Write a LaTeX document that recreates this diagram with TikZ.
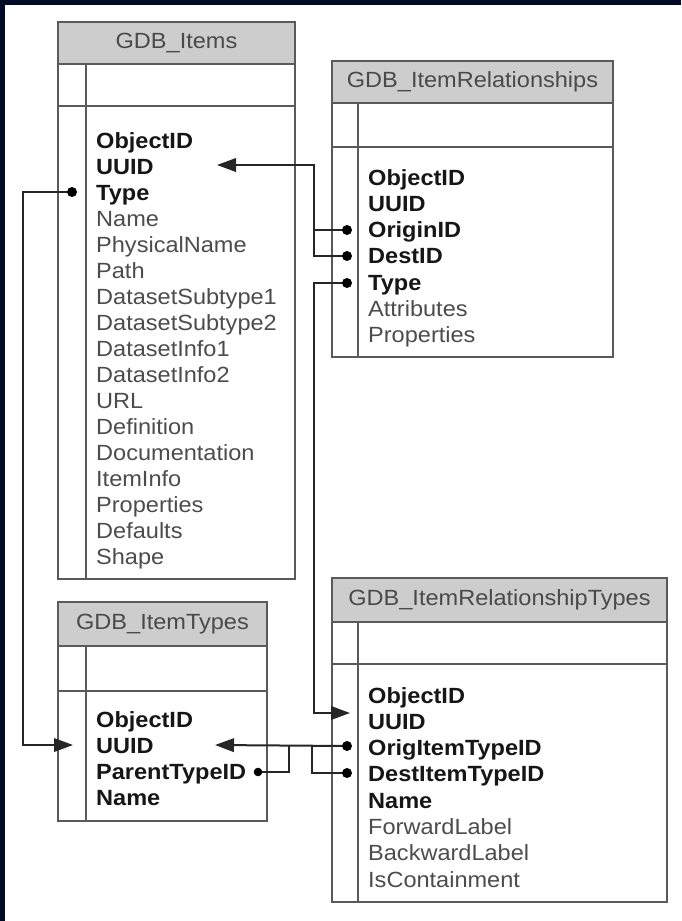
\documentclass[tikz,border=0pt]{standalone}
\usepackage{fontspec}
\setmainfont{Liberation Sans}[FakeStretch=1.07]
\usetikzlibrary{arrows.meta}
\definecolor{navy}{HTML}{020B26}
\definecolor{hdrfill}{HTML}{CDCDCD}
\definecolor{bordc}{HTML}{5A5A5A}
\definecolor{boldc}{HTML}{161616}
\definecolor{regc}{HTML}{4C4C4C}
\definecolor{hdrc}{HTML}{4A4A4A}
\tikzset{
  tbl/.style={draw=bordc, line width=2.4pt},
  hdr/.style={fill=hdrfill, draw=bordc, line width=2.4pt},
  hdrtext/.style={font=\fontsize{22}{26}\selectfont, text=hdrc, inner sep=0pt},
  fieldb/.style={font=\fontsize{22}{26}\selectfont\bfseries, text=boldc, anchor=base west, inner sep=0pt},
  fieldr/.style={font=\fontsize{22}{26}\selectfont, text=regc, anchor=base west, inner sep=0pt},
  conn/.style={draw=black!85, line width=2pt},
  tip/.style={-{Triangle[length=19pt,width=13.5pt]}},
  dot/.style={fill=black},
}
% #1 left, #2 top, #3 right, #4 header bottom, #5 divider, #6 bottom, #7 inner x, #8 title, #9 name
\newcommand{\dbtable}[9]{%
  \fill[white] (#1,#2) rectangle (#3,#6);
  \draw[hdr] (#1,#2) rectangle (#3,#4);
  \node[hdrtext] (#9) at ({(#1+#3)/2},{(#2+#4)/2}) {#8};
  \draw[tbl] (#1,#4) rectangle (#3,#6);
  \draw[tbl] (#1,#5) -- (#3,#5);
  \draw[tbl] (#7,#4) -- (#7,#6);
}
\begin{document}
\begin{tikzpicture}[x=1pt,y=-1pt]
\useasboundingbox (0,0) rectangle (681,921);
\fill[white] (0,0) rectangle (681,921);
\fill[navy] (0,0) rectangle (681,5);
\fill[navy] (0,0) rectangle (5,921);

% tables
\dbtable{58}{22}{295}{64}{106}{579}{86}{GDB\_Items}{items}
\dbtable{332}{61}{613}{103}{147}{357}{358}{GDB\_ItemRelationships}{rel}
\dbtable{58}{602}{267}{646}{691}{821}{86}{GDB\_ItemTypes}{types}
\dbtable{332}{578}{667}{622}{664}{902}{358}{GDB\_ItemRelationshipTypes}{reltypes}

% GDB_Items fields
\foreach \t [count=\i] in {ObjectID,UUID,Type}
  \node[fieldb] (it\i) at (96,{140+(\i-1)*26.06+8}) {\t};
\foreach \t [count=\i from 4] in {Name,PhysicalName,Path,DatasetSubtype1,DatasetSubtype2,DatasetInfo1,DatasetInfo2,URL,Definition,Documentation,ItemInfo,Properties,Defaults,Shape}
  \node[fieldr] (it\i) at (96,{140+(\i-1)*26.06+8}) {\t};

% GDB_ItemRelationships fields
\foreach \t [count=\i] in {ObjectID,UUID,OriginID,DestID,Type}
  \node[fieldb] (ir\i) at (368,{177+(\i-1)*26.3+8}) {\t};
\foreach \t [count=\i from 6] in {Attributes,Properties}
  \node[fieldr] (ir\i) at (368,{177+(\i-1)*26.3+8}) {\t};

% GDB_ItemTypes fields
\foreach \t [count=\i] in {ObjectID,UUID,ParentTypeID,Name}
  \node[fieldb] (ty\i) at (96,{719+(\i-1)*26.3+8}) {\t};

% GDB_ItemRelationshipTypes fields
\foreach \t [count=\i] in {ObjectID,UUID,OrigItemTypeID,DestItemTypeID,Name}
  \node[fieldb] (rt\i) at (368,{695+(\i-1)*26.3+8}) {\t};
\foreach \t [count=\i from 6] in {ForwardLabel,BackwardLabel,IsContainment}
  \node[fieldr] (rt\i) at (368,{695+(\i-1)*26.3+8}) {\t};

% connector end points
\coordinate (dItType) at (72,192);
\coordinate (aTyUUID) at (73,745);
\coordinate (aItUUID) at (217,165);
\coordinate (dOrig) at (347,230);
\coordinate (dDest) at (347,256);
\coordinate (dRelType) at (347,283);
\coordinate (aRtUUID) at (350,713);
\coordinate (aTyUUID2) at (215,745);
\coordinate (dOrigT) at (347,746);
\coordinate (dDestT) at (347,773);
\coordinate (dParent) at (258,772);

% connectors
\draw[conn,tip] (dItType) -- (23,192) -- (23,745) -- (aTyUUID);
\draw[conn,tip] (dDest) -- (314,256) -- (314,165) -- (aItUUID);
\draw[conn] (dOrig) -- (314,230);
\draw[conn,tip] (dRelType) -- (314,283) -- (314,713) -- (aRtUUID);
\draw[conn,tip] (dOrigT) -- (aTyUUID2);
\draw[conn] (dParent) -- (289,772) -- (289,746);
\draw[conn] (dDestT) -- (312,773) -- (312,746);

% dots
\foreach \c in {dItType,dOrig,dDest,dRelType,dOrigT,dDestT}
  \fill[dot] (\c) circle (5);
\fill[dot] (dParent) circle (4.3);
\end{tikzpicture}
\end{document}
